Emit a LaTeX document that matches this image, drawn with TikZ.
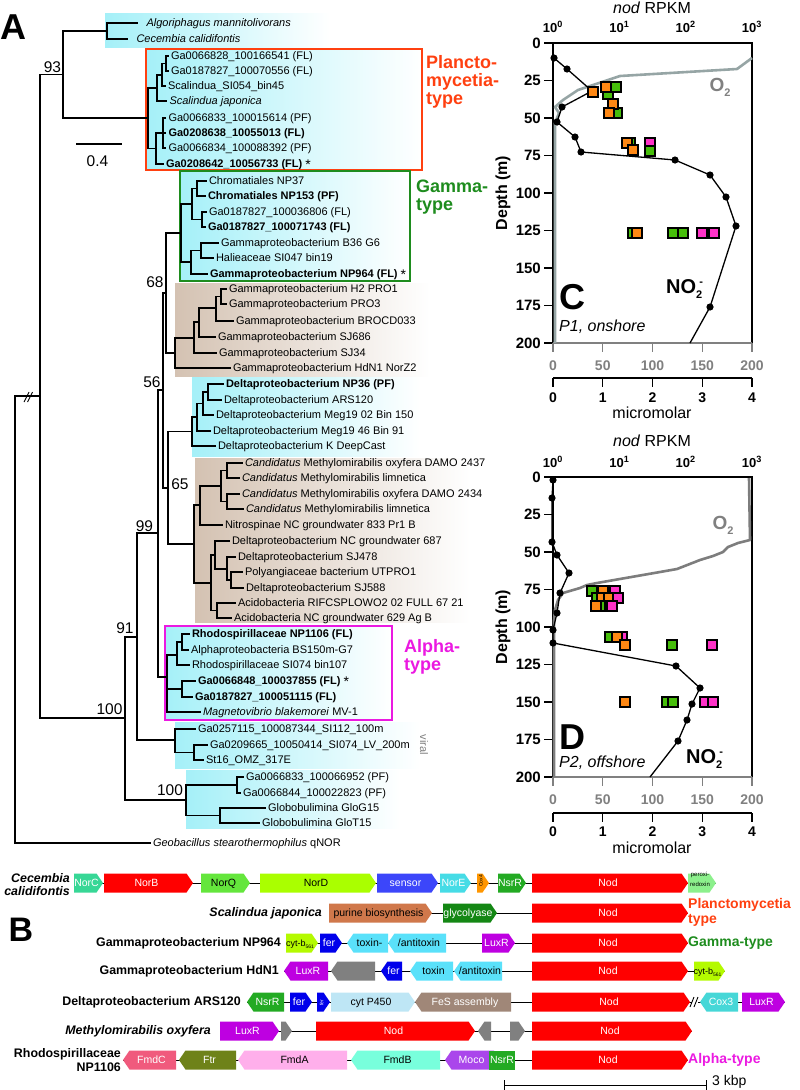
\documentclass[tikz,border=0pt]{standalone}
\usepackage{fontspec}
\setmainfont{Liberation Sans}
\usetikzlibrary{calc}
\newcommand{\myfs}[1]{\fontsize{#1}{#1}\selectfont}
\newcommand{\myast}{~\raisebox{-2.5pt}{\myfs{14}*}}
\definecolor{cyanbg}{RGB}{165,240,248}
\definecolor{brownbg}{RGB}{212,194,178}
\definecolor{plred}{RGB}{255,64,16}
\definecolor{gmgreen}{RGB}{30,140,30}
\definecolor{alpmag}{RGB}{235,25,225}
\definecolor{o2c}{RGB}{150,165,165}
\definecolor{o2d}{RGB}{125,125,125}
\definecolor{axgray}{RGB}{128,128,128}
\definecolor{sqor}{RGB}{255,136,20}
\definecolor{sqgr}{RGB}{70,190,10}
\definecolor{sqmg}{RGB}{255,50,200}
\definecolor{cnorc}{RGB}{55,215,150}
\definecolor{cnod}{RGB}{255,0,0}
\definecolor{cnorq}{RGB}{100,230,60}
\definecolor{cnord}{RGB}{170,255,0}
\definecolor{csens}{RGB}{60,70,250}
\definecolor{cnore}{RGB}{70,220,230}
\definecolor{ccox}{RGB}{255,150,0}
\definecolor{cnsrr}{RGB}{35,170,35}
\definecolor{cperox}{RGB}{140,240,140}
\definecolor{cpur}{RGB}{208,120,75}
\definecolor{cglyc}{RGB}{20,135,20}
\definecolor{ccyt}{RGB}{180,250,0}
\definecolor{cfer}{RGB}{0,0,235}
\definecolor{ctox}{RGB}{90,225,250}
\definecolor{cluxr}{RGB}{190,0,225}
\definecolor{cgray}{RGB}{128,128,128}
\definecolor{cp450}{RGB}{190,230,245}
\definecolor{cfes}{RGB}{160,135,120}
\definecolor{ccox3}{RGB}{70,215,215}
\definecolor{cfmdc}{RGB}{240,90,125}
\definecolor{cftr}{RGB}{110,130,25}
\definecolor{cfmda}{RGB}{255,175,235}
\definecolor{cfmdb}{RGB}{120,255,220}
\definecolor{cmoco}{RGB}{170,70,235}
\tikzset{
  br/.style={line width=1.1pt},
  leaf/.style={anchor=west, inner sep=0pt, outer sep=2.5pt, text height=6.5pt, text depth=0pt, font=\myfs{11}},
  boot/.style={font=\myfs{15.5}, inner sep=0pt},
  gtext/.style={font=\myfs{10.5}, inner sep=0pt, align=center, text height=7.5pt, text depth=0pt},
  glabel/.style={font=\bfseries\fontsize{12.4}{13.5}\selectfont, anchor=east, align=right, inner sep=0pt},
  gline/.style={line width=1pt},
  typelab/.style={font=\bfseries\myfs{18}, anchor=north west, align=left, inner sep=0pt},
  btype/.style={font=\bfseries\fontsize{14}{15}\selectfont, anchor=west, align=left, inner sep=0pt},
  tick/.style={font=\bfseries\myfs{15}, inner sep=0pt},
  ttick/.style={font=\bfseries\myfs{13}, inner sep=0pt},
  btick/.style={font=\bfseries\myfs{14}, inner sep=0pt},
  axlab/.style={font=\myfs{16}, inner sep=0pt},
  no2/.style={line width=1.3pt},
  sq/.style={draw=black, line width=1.1pt},
  big/.style={font=\bfseries\myfs{36}, inner sep=0pt}
}
\newcommand{\geneR}[6]{\fill[#4] (#1,#3-9.5) -- ({#2-6.5},#3-9.5) -- (#2,#3) -- ({#2-6.5},#3+9.5) -- (#1,#3+9.5) -- cycle;
  \node[gtext,text=#5] at ({(#1+#2)/2-2},#3) {#6};}
\newcommand{\geneL}[6]{\fill[#4] (#1,#3) -- ({#1+6.5},#3-9.5) -- (#2,#3-9.5) -- (#2,#3+9.5) -- ({#1+6.5},#3+9.5) -- cycle;
  \node[gtext,text=#5] at ({(#1+#2)/2+2},#3) {#6};}
\newcommand{\geneB}[6]{\fill[#4] (#1,#3-9.5) rectangle (#2,#3+9.5);
  \node[gtext,text=#5] at ({(#1+#2)/2},#3) {#6};}
\begin{document}
\begin{tikzpicture}[x=1pt,y=-1pt]
\useasboundingbox (0,0) rectangle (800,1090);
% ---------- backgrounds of panel A
\shade[left color=cyanbg,right color=white] (105,13) rectangle (330,47);
\shade[left color=cyanbg,right color=white] (146,49) rectangle (422,170);
\draw[plred,line width=1.3pt] (146,49) rectangle (422,170);
\shade[left color=cyanbg,right color=white] (180,171) rectangle (410,281);
\draw[gmgreen,line width=1.3pt] (180,171) rectangle (410,281);
\shade[left color=brownbg,right color=white] (175,283) rectangle (430,376);
\shade[left color=cyanbg,right color=white] (192,377) rectangle (420,456);
\shade[left color=brownbg,right color=white] (195,458) rectangle (470,622);
\shade[left color=cyanbg,right color=white] (165,626) rectangle (392,720);
\draw[alpmag,line width=1.3pt] (165,626) rectangle (392,720);
\shade[left color=cyanbg,right color=white] (175,722) rectangle (420,768);
\shade[left color=cyanbg,right color=white] (186,770) rectangle (400,828);
% ---------- leaves
\node[leaf] (l1) at (144,23) {\textit{Algoriphagus mannitolivorans}};
\node[leaf] (l2) at (134,39) {\textit{Cecembia calidifontis}};
\node[leaf] (l3) at (168.5,56) {Ga0066828\_100166541 (FL)};
\node[leaf] (l4) at (168.5,71) {Ga0187827\_100070556 (FL)};
\node[leaf] (l5) at (165.5,86) {Scalindua\_SI054\_bin45};
\node[leaf] (l6) at (167,101) {\textit{Scalindua japonica}};
\node[leaf] (l7) at (166,118) {Ga0066833\_100015614 (PF)};
\node[leaf] (l8) at (166,133) {\textbf{Ga0208638\_10055013 (FL)}};
\node[leaf] (l9) at (166,148) {Ga0066834\_100088392 (PF)};
\node[leaf] (l10) at (163.5,164) {\textbf{Ga0208642\_10056733 (FL)}\myast};
\node[leaf] (l11) at (206.5,181) {Chromatiales NP37};
\node[leaf] (l12) at (205.5,196) {\textbf{Chromatiales NP153 (PF)}};
\node[leaf] (l13) at (206.5,212) {Ga0187827\_100036806 (FL)};
\node[leaf] (l14) at (205.5,227) {\textbf{Ga0187827\_100071743 (FL)}};
\node[leaf] (l15) at (218.5,243) {Gammaproteobacterium B36 G6};
\node[leaf] (l16) at (213.5,258) {Halieaceae SI047 bin19};
\node[leaf] (l17) at (207.5,274) {\textbf{Gammaproteobacterium NP964 (FL)}\myast};
\node[leaf] (l18) at (226.5,289) {Gammaproteobacterium H2 PRO1};
\node[leaf] (l19) at (226.5,304) {Gammaproteobacterium PRO3};
\node[leaf] (l20) at (233.5,321) {Gammaproteobacterium BROCD033};
\node[leaf] (l21) at (215.5,337) {Gammaproteobacterium SJ686};
\node[leaf] (l22) at (216.5,353) {Gammaproteobacterium SJ34};
\node[leaf] (l23) at (230.5,368) {Gammaproteobacterium HdN1 NorZ2};
\node[leaf] (l24) at (223.5,384) {\textbf{Deltaproteobacterium NP36 (PF)}};
\node[leaf] (l25) at (221.5,400) {Deltaproteobacterium ARS120};
\node[leaf] (l26) at (213.5,415) {Deltaproteobacterium Meg19 02 Bin 150};
\node[leaf] (l27) at (210.5,431) {Deltaproteobacterium Meg19 46 Bin 91};
\node[leaf] (l28) at (215.5,446) {Deltaproteobacterium K DeepCast};
\node[leaf] (l29) at (242.5,463) {\textit{Candidatus} Methylomirabilis oxyfera DAMO 2437};
\node[leaf] (l30) at (239.5,478) {\textit{Candidatus} Methylomirabilis limnetica};
\node[leaf] (l31) at (239.5,494) {\textit{Candidatus} Methylomirabilis oxyfera DAMO 2434};
\node[leaf] (l32) at (243.5,509) {\textit{Candidatus} Methylomirabilis limnetica};
\node[leaf] (l33) at (222.5,525) {Nitrospinae NC groundwater 833 Pr1 B};
\node[leaf] (l34) at (229.5,541) {Deltaproteobacterium NC groundwater 687};
\node[leaf] (l35) at (235.5,557) {Deltaproteobacterium SJ478};
\node[leaf] (l36) at (242.5,572) {Polyangiaceae bacterium UTPRO1};
\node[leaf] (l37) at (243.5,588) {Deltaproteobacterium SJ588};
\node[leaf] (l38) at (235.5,603) {Acidobacteria RIFCSPLOWO2 02 FULL 67 21};
\node[leaf] (l39) at (231.5,618) {Acidobacteria NC groundwater 629 Ag B};
\node[leaf] (l40) at (189.5,634) {\textbf{Rhodospirillaceae NP1106 (FL)}};
\node[leaf] (l41) at (188.5,650) {Alphaproteobacteria BS150m-G7};
\node[leaf] (l42) at (189.5,665) {Rhodospirillaceae SI074 bin107};
\node[leaf] (l43) at (195.5,681) {\textbf{Ga0066848\_100037855 (FL)}\myast};
\node[leaf] (l44) at (192.5,697) {\textbf{Ga0187827\_100051115 (FL)}};
\node[leaf] (l45) at (200.5,712) {\textit{Magnetovibrio blakemorei} MV-1};
\node[leaf] (l46) at (195.5,729) {Ga0257115\_100087344\_SI112\_100m};
\node[leaf] (l47) at (207.5,745) {Ga0209665\_10050414\_SI074\_LV\_200m};
\node[leaf] (l48) at (203.5,760) {St16\_OMZ\_317E};
\node[leaf] (l49) at (243.5,777) {Ga0066833\_100066952 (PF)};
\node[leaf] (l50) at (240.5,793) {Ga0066844\_100022823 (PF)};
\node[leaf] (l51) at (265.5,808) {Globobulimina GloG15};
\node[leaf] (l52) at (259.5,823) {Globobulimina GloT15};
\node[leaf] (l53) at (150.5,843) {\textit{Geobacillus stearothermophilus} qNOR};
% ---------- internal nodes
\coordinate (root) at (15,620);   \coordinate (A) at (40,396);
\coordinate (B) at (63,74.5);     \coordinate (n0) at (107,31);
\coordinate (P) at (148,118);     \coordinate (P1) at (157,88);
\coordinate (P1a) at (162,75);    \coordinate (P1b) at (166,63.5);
\coordinate (P2) at (156,148.5);  \coordinate (P2a) at (163,133);
\coordinate (C) at (125,718);     \coordinate (N91) at (137,637);
\coordinate (N99) at (158,533);   \coordinate (N56) at (163,390);
\coordinate (N68) at (166,293);   \coordinate (G) at (181,233);
\coordinate (G1) at (192,204);    \coordinate (G1a) at (197,188.5);
\coordinate (G1b) at (202,219.5); \coordinate (G2) at (191,262);
\coordinate (G2a) at (201,250.5); \coordinate (Br) at (175,353);
\coordinate (Br1) at (194,338);   \coordinate (Br2) at (199,322);
\coordinate (Br3) at (216,308);   \coordinate (Br4) at (221,296.5);
\coordinate (N65) at (168,488);   \coordinate (D) at (192,431.5);
\coordinate (D1) at (197,417);    \coordinate (D2) at (203,403.5);
\coordinate (D3) at (208,392);    \coordinate (M0) at (194,544);
\coordinate (M) at (200,505);     \coordinate (Me) at (221,486);
\coordinate (Me1) at (227,470.5); \coordinate (Me2) at (227,501.5);
\coordinate (N) at (211,583);     \coordinate (N1) at (215,555);
\coordinate (N1b) at (227,569);   \coordinate (N1c) at (231,580);
\coordinate (N2) at (217,610.5);  \coordinate (AL) at (167,677);
\coordinate (R) at (177,655);     \coordinate (R1) at (182,642);
\coordinate (AL2) at (182,689);   \coordinate (V) at (175,740);
\coordinate (V1) at (194,752.5);  \coordinate (Gl) at (186,800);
\coordinate (Gl1) at (237,785);   \coordinate (Gl2) at (220,815.5);
% ---------- branches
\draw[br] (root) |- (A) (root) |- (l53.west)
  (A) |- (B) (A) |- (C)
  (B) |- (n0) (B) |- (P)
  (n0) |- ([xshift=-6pt]l1.west) (n0) |- ([xshift=-6pt]l2.west)
  (P) |- (P1) (P) |- (P2)
  (P1) |- (P1a) (P1) |- (l6.west) (P1a) |- (P1b) (P1a) |- (l5.west)
  (P1b) |- (l3.west) (P1b) |- (l4.west)
  (P2) |- (P2a) (P2) |- (l10.west)
  (P2a) |- (l7.west) (P2a) |- (l8.west) (P2a) |- (l9.west)
  (C) |- (N91) (C) |- (Gl)
  (N91) |- (N99) (N91) |- (V)
  (N99) |- (N56) (N99) |- (AL)
  (N56) |- (N68) (N56) |- (N65)
  (N68) |- (G) (N68) |- (Br)
  (G) |- (G1) (G) |- (G2)
  (G1) |- (G1a) (G1) |- (G1b)
  (G1a) |- (l11.west) (G1a) |- (l12.west) (G1b) |- (l13.west) (G1b) |- (l14.west)
  (G2) |- (G2a) (G2) |- (l17.west) (G2a) |- (l15.west) (G2a) |- (l16.west)
  (Br) |- (Br1) (Br) |- (l23.west) (Br1) |- (Br2) (Br1) |- (l22.west)
  (Br2) |- (Br3) (Br2) |- (l21.west) (Br3) |- (Br4) (Br3) |- (l20.west)
  (Br4) |- (l18.west) (Br4) |- (l19.west)
  (N65) |- (D) (N65) |- (M0)
  (D) |- (D1) (D) |- (l28.west) (D1) |- (D2) (D1) |- (l27.west)
  (D2) |- (D3) (D2) |- (l26.west) (D3) |- (l24.west) (D3) |- (l25.west)
  (M0) |- (M) (M0) |- (N)
  (M) |- (Me) (M) |- (l33.west) (Me) |- (Me1) (Me) |- (Me2)
  (Me1) |- (l29.west) (Me1) |- (l30.west) (Me2) |- (l31.west) (Me2) |- (l32.west)
  (N) |- (N1) (N) |- (N2) (N1) |- (l34.west) (N1) |- (N1b)
  (N1b) |- (l35.west) (N1b) |- (N1c) (N1c) |- (l36.west) (N1c) |- (l37.west)
  (N2) |- (l38.west) (N2) |- (l39.west)
  (AL) |- (R) (AL) |- (AL2) (AL) |- (l45.west)
  (R) |- (R1) (R) |- (l42.west) (R1) |- (l40.west) (R1) |- (l41.west)
  (AL2) |- (l43.west) (AL2) |- (l44.west)
  (V) |- (l46.west) (V) |- (V1) (V1) |- (l47.west) (V1) |- (l48.west)
  (Gl) |- (Gl1) (Gl) |- (Gl2) (Gl1) |- (l49.west) (Gl1) |- (l50.west)
  (Gl2) |- (l51.west) (Gl2) |- (l52.west);
% break mark on root branch
\draw[line width=0.9pt] (24,402) -- (29,392) (27.5,402) -- (32.5,392);
% bootstrap values
\node[boot] (b93) at (52.5,67.5) {93};
\node[boot] (b68) at (155,282) {68};
\node[boot] (b56) at (152,382.5) {56};
\node[boot] (b65) at (180,484) {65};
\node[boot] (b99) at (144.5,526) {99};
\node[boot] (b91) at (125,628.5) {91};
\node[boot] (b100a) at (109.5,709.5) {100};
\node[boot] (b100b) at (170,790.5) {100};
% scale bar
\coordinate (sb1) at (76,144); \coordinate (sb2) at (122,144);
\draw[line width=1.1pt] (sb1) -- (sb2);
\node[boot] (sbl) at (97.5,161.5) {0.4};
% clade labels
\node[typelab,text=plred] (tpl) at (426,55) {Plancto-\\mycetia-\\type};
\node[typelab,text=gmgreen] (tgm) at (416,180) {Gamma-\\type};
\node[typelab,text=alpmag] (tal) at (404,639.5) {Alpha-\\type};
\node[font=\myfs{11},text=axgray,rotate=-90,inner sep=0pt] (vir) at (424,745) {viral};
\node[big] (pA) at (13,27) {A};
% ================= Panel B
\node[big,font=\bfseries\myfs{34}] (pB) at (21,930) {B};
\draw[gline] (74,883) -- (716,883);
\draw[gline] (329,913) -- (688,913);
\draw[gline] (286,943) -- (688,943);
\draw[gline] (284,971) -- (725,971);
\draw[gline] (247,1002) -- (785,1002);
\draw[gline] (220,1031) -- (692,1031);
\draw[gline] (123,1060) -- (688,1060);
% row 1
\node[glabel] (r1) at (70,884.5) {\textit{Cecembia}\\\textit{calidifontis}};
\geneR{74}{103}{883}{cnorc}{white}{NorC}
\geneR{104}{193}{883}{cnod}{white}{NorB}
\geneR{201}{250}{883}{cnorq}{black}{NorQ}
\geneR{260}{376}{883}{cnord}{black}{NorD}
\geneR{377}{438}{883}{csens}{white}{sensor}
\geneR{440}{471}{883}{cnore}{white}{NorE}
\geneR{477}{489}{883}{ccox}{black}{\rotatebox{90}{\myfs{5}Cox4}}
\geneR{498}{526}{883}{cnsrr}{white}{NsrR}
\geneR{532}{688}{883}{cnod}{white}{Nod}
\geneR{688}{716}{883}{cperox}{black}{\fontsize{6}{6}\selectfont peroxi-\\\fontsize{6}{6}\selectfont redoxin}
% row 2
\node[glabel] (r2) at (322,913) {\textit{Scalindua japonica}};
\geneR{329}{432}{913}{cpur}{black}{purine biosynthesis}
\geneR{443}{497}{913}{cglyc}{white}{glycolyase}
\geneR{532}{688}{913}{cnod}{white}{Nod}
\node[btype,text=plred] (bt1) at (688,912.5) {Planctomycetia\\type};
% row 3
\node[glabel] (r3) at (281,943) {Gammaproteobacterium NP964};
\geneR{286}{318}{943}{ccyt}{black}{\myfs{9}cyt-b\raisebox{-2pt}{\myfs{5}561}}
\geneR{320}{342}{943}{cfer}{white}{fer}
\geneL{347}{388}{943}{ctox}{black}{toxin-}
\geneL{388}{446}{943}{ctox}{black}{/antitoxin}
\geneR{482}{515}{943}{cluxr}{white}{LuxR}
\geneR{532}{688}{943}{cnod}{white}{Nod}
\node[btype,text=gmgreen] (bt2) at (688,943) {Gamma-type};
% row 4
\node[glabel] (r4) at (279,971) {Gammaproteobacterium HdN1};
\geneL{284}{328}{971}{cluxr}{white}{LuxR}
\geneL{331}{375}{971}{cgray}{white}{}
\geneL{381}{402}{971}{cfer}{white}{fer}
\geneL{410}{453}{971}{ctox}{black}{toxin}
\geneL{454}{502}{971}{ctox}{black}{/antitoxin}
\geneR{532}{688}{971}{cnod}{white}{Nod}
\geneR{694}{725}{971}{ccyt}{black}{\myfs{9}cyt-b\raisebox{-2pt}{\myfs{5}561}}
% row 5
\node[glabel] (r5) at (241,1002) {Deltaproteobacterium ARS120};
\geneL{247}{284}{1002}{cnsrr}{white}{NsrR}
\geneR{290}{312}{1002}{cfer}{white}{fer}
\geneR{317}{330}{1002}{cfer}{white}{\rotatebox{90}{\myfs{5}fer}}
\geneR{331}{415}{1002}{cp450}{black}{cyt P450}
\geneL{415}{511}{1002}{cfes}{white}{FeS assembly}
\geneR{532}{690}{1002}{cnod}{white}{Nod}
\fill[white] (692,994) rectangle (698,1010);
\draw[line width=0.9pt] (690,1007) -- (694,997) (694,1007) -- (698,997);
\geneL{700}{738}{1002}{ccox3}{white}{Cox3}
\geneR{742}{785}{1002}{cluxr}{white}{LuxR}
% row 6
\node[glabel] (r6) at (211,1031) {\textit{Methylomirabilis oxyfera}};
\geneR{220}{279}{1031}{cluxr}{white}{LuxR}
\geneR{281}{292}{1031}{cgray}{white}{}
\geneR{316}{475}{1031}{cnod}{white}{Nod}
\geneL{478}{491}{1031}{cgray}{white}{}
\geneR{510}{525}{1031}{cgray}{white}{}
\geneR{532}{692}{1031}{cnod}{white}{Nod}
% row 7
\node[glabel] (r7) at (121,1060) {Rhodospirillaceae\\NP1106};
\geneL{123}{176}{1060}{cfmdc}{white}{FmdC}
\geneL{179}{236}{1060}{cftr}{white}{Ftr}
\geneL{238}{347}{1060}{cfmda}{black}{FmdA}
\geneL{351}{440}{1060}{cfmdb}{black}{FmdB}
\geneL{445}{494}{1060}{cmoco}{white}{Moco}
\geneB{489}{515}{1060}{cnsrr}{white}{NsrR}
\geneR{532}{688}{1060}{cnod}{white}{Nod}
\node[btype,text=alpmag] (bt3) at (688,1060) {Alpha-type};
% scale bar
\coordinate (kb1) at (504,1085); \coordinate (kb2) at (706,1085);
\draw[line width=1pt] (kb1) -- (kb2) (504,1080) -- (504,1090) (706,1080) -- (706,1090);
\node[font=\myfs{14},anchor=west,inner sep=0pt] (kbl) at (712,1082) {3 kbp};
% ================= Panel C
\draw[line width=1.3pt] (553,343) -- (553,43) -- (752,43) -- (752,343);
\draw[axgray,line width=1.3pt] (553,343) -- (752,343);
\foreach \d in {0,25,...,200} {
  \draw[line width=1.2pt] (544,{43+1.5*\d}) -- (553,{43+1.5*\d});
  \node[tick,anchor=east] at (541,{43+1.5*\d}) {\d};}
\foreach \e/\x in {0/553,1/619.3,2/685.7,3/752}
  \node[ttick] at (\x,27) {10\textsuperscript{\e}};
\node[axlab] (cn) at (652,8) {\textit{nod} RPKM};
\node[font=\bfseries\myfs{16},rotate=90,inner sep=0pt] (cdep) at (503,193) {Depth (m)};
\foreach \v/\x in {0/553,50/602.75,100/652.5,150/702.25,200/752} {
  \draw[axgray,line width=1.2pt] (\x,343) -- (\x,352);
  \node[btick,text=axgray] at (\x,366) {\v};}
\draw[line width=1.3pt] (553,378) -- (752,378);
\foreach \v/\x in {0/553,1/602.75,2/652.5,3/702.25,4/752} {
  \draw[line width=1.2pt] (\x,378) -- (\x,387);
  \node[btick] at (\x,398) {\v};}
\node[axlab] (cm) at (652,413) {micromolar};
\draw[o2c,line width=2.6pt,line join=round] (752,58) -- (737,69) -- (620,76) -- (578,90) -- (563,100) -- (555,107) -- (559,113) -- (555,123) -- (555,343);
\draw[no2] (554,58) -- (567,69) -- (592,91) -- (562,107) -- (557,122) -- (575,137) -- (581,152) -- (675,160) -- (710,175) -- (726,197) -- (736,226) -- (710,307) -- (690,343);
\foreach \p in {(554,58),(567,69),(562,107),(557,122),(575,137),(581,152),(675,160),(710,175),(726,197),(736,226),(710,307)}
  \fill \p circle[radius=3.6pt];
\foreach \x/\y/\c in {593/92/sqor,608/94/sqgr,616/87/sqgr,606/87/sqor,617/113/sqgr,613/104/sqor,609/113/sqor,630/143/sqgr,627/143/sqor,633/150/sqor,650/143/sqmg,650/151/sqgr,633/233/sqgr,637/233/sqor,673/233/sqgr,683/233/sqgr,702/233/sqmg,714/233/sqmg}
  \draw[sq,fill=\c] (\x-5,\y-5) rectangle (\x+5,\y+5);
\node[font=\bfseries\myfs{19},text=axgray,inner sep=0pt] (co2) at (720,87) {O\raisebox{-5pt}{\myfs{11}2}};
\node[font=\bfseries\myfs{20},anchor=west,inner sep=0pt] (cno2) at (666,289) {NO\raisebox{-5pt}{\myfs{11}2}\kern-3pt\raisebox{8pt}{\myfs{11}-}};
\node[big] (pC) at (572,297) {C};
\node[font=\itshape\myfs{16},anchor=west,inner sep=0pt] (cp1) at (559,327) {P1, onshore};
% ================= Panel D
\draw[line width=1.3pt] (553,777) -- (553,477) -- (752,477) -- (752,777);
\draw[axgray,line width=1.3pt] (553,777) -- (752,777);
\foreach \d in {0,25,...,200} {
  \draw[line width=1.2pt] (544,{477+1.5*\d}) -- (553,{477+1.5*\d});
  \node[tick,anchor=east] at (541,{477+1.5*\d}) {\d};}
\foreach \e/\x in {0/553,1/619.3,2/685.7,3/752}
  \node[ttick] at (\x,462) {10\textsuperscript{\e}};
\node[axlab] (dn) at (652,441) {\textit{nod} RPKM};
\node[font=\bfseries\myfs{16},rotate=90,inner sep=0pt] (ddep) at (503,627) {Depth (m)};
\foreach \v/\x in {0/553,50/602.75,100/652.5,150/702.25,200/752} {
  \draw[axgray,line width=1.2pt] (\x,777) -- (\x,786);
  \node[btick,text=axgray] at (\x,800) {\v};}
\draw[line width=1.3pt] (553,813) -- (752,813);
\foreach \v/\x in {0/553,1/602.75,2/652.5,3/702.25,4/752} {
  \draw[line width=1.2pt] (\x,813) -- (\x,822);
  \node[btick] at (\x,832) {\v};}
\node[axlab] (dm) at (652,848) {micromolar};
\draw[o2d,line width=2.6pt,line join=round] (749,478) -- (750,540) -- (746,541) -- (738,543) -- (728,547) -- (723,552) -- (713,556) -- (700,560) -- (677,569) -- (660,572) -- (597,583) -- (587,585) -- (580,588) -- (563,593) -- (558,600) -- (555,610) -- (554,620) -- (554,777);
\draw[no2] (553,480) -- (552,498) -- (552,542) -- (557,555) -- (569,573) -- (560,593) -- (557,613) -- (553,630) -- (553,643) -- (676,666) -- (700,688) -- (692,704) -- (687,720) -- (678,741) -- (650,777);
\foreach \p in {(553,480),(552,498),(552,542),(557,555),(569,573),(560,593),(557,613),(553,630),(553,643),(676,666),(700,688),(692,704),(687,720),(678,741)}
  \fill \p circle[radius=3.6pt];
\foreach \x/\y/\c in {592/591/sqgr,603/591/sqor,615/591/sqmg,597/598/sqgr,602/598/sqor,609/598/sqor,618/598/sqmg,600/606/sqgr,596/606/sqor,612/606/sqmg,610/637/sqgr,622/637/sqmg,617/637/sqor,625/645/sqor,672/645/sqgr,712/645/sqmg,625/702/sqor,667/702/sqgr,673/702/sqgr,705/702/sqmg,713/702/sqmg}
  \draw[sq,fill=\c] (\x-5,\y-5) rectangle (\x+5,\y+5);
\node[font=\bfseries\myfs{19},text=axgray,inner sep=0pt] (do2) at (723,525) {O\raisebox{-5pt}{\myfs{11}2}};
\node[font=\bfseries\myfs{20},anchor=west,inner sep=0pt] (dno2) at (686,759) {NO\raisebox{-5pt}{\myfs{11}2}\kern-3pt\raisebox{8pt}{\myfs{11}-}};
\node[big] (pD) at (572,737) {D};
\node[font=\itshape\myfs{16},anchor=west,inner sep=0pt] (dp2) at (559,763) {P2, offshore};
\end{tikzpicture}
\end{document}
